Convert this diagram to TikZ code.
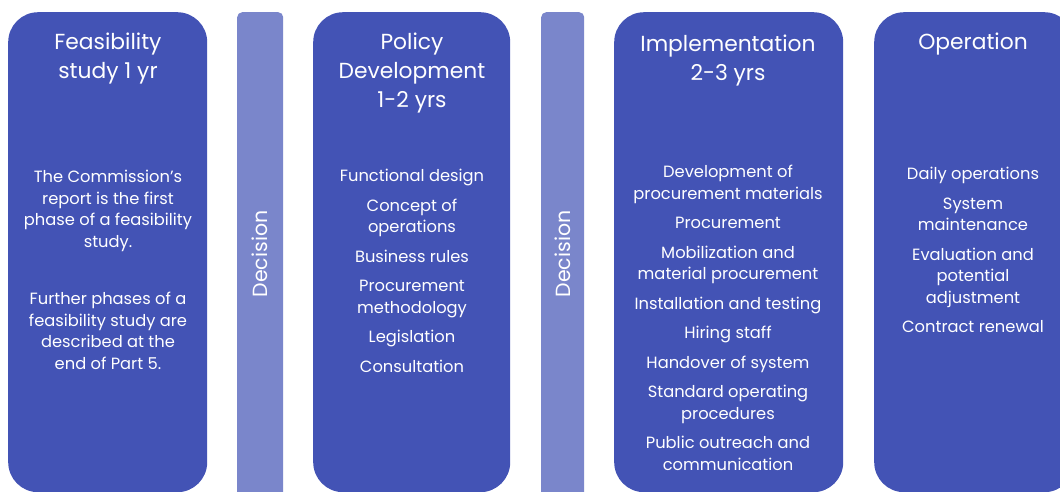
\documentclass[tikz,border=0pt]{standalone}
\usepackage{fontspec}
\setmainfont{Poppins}
\usetikzlibrary{positioning}
\definecolor{phaseblue}{RGB}{67,83,181}
\definecolor{gateblue}{RGB}{122,134,203}

\begin{document}
\begin{tikzpicture}[x=1pt,y=-1pt,
   phase/.style={fill=phaseblue,rounded corners=30pt,anchor=north west,inner sep=0pt,minimum height=480pt},
   gate/.style={fill=gateblue,rounded corners=5pt,anchor=north west,inner sep=0pt,minimum height=500pt},
   ttl/.style={text=white,font=\fontsize{21.8}{29}\selectfont,align=center,anchor=north,inner sep=0pt},
   txt/.style={text=white,font=\fontsize{16.3}{21.5}\selectfont,align=center,anchor=north,inner sep=0pt},
   dec/.style={text=white,font=\fontsize{20.5}{22}\selectfont,rotate=90,inner sep=0pt}]
  \useasboundingbox (0,0) rectangle (1060,491);
  \clip (0,0) rectangle (1060,491);
  % phases and decision gates
  \node[phase,minimum width=199pt] (feas) at (8,12) {};
  \node[gate,minimum width=46pt] (gate1) at (237,12) {};
  \node[phase,minimum width=197pt] (policy) at (313,12) {};
  \node[gate,minimum width=43pt] (gate2) at (541,12) {};
  \node[phase,minimum width=229pt] (impl) at (614,12) {};
  \node[phase,minimum width=200pt] (oper) at (874,12) {};
  \node[dec] (dec1) at (260,254) {Decision};
  \node[dec] (dec2) at (562.5,254) {Decision};
  % titles
  \node[ttl] (feasT) at (108,33) {Feasibility\\study 1 yr};
  \node[ttl] (policyT) at (412,33) {Policy\\Development\\1-2 yrs};
  \node[ttl] (implT) at (728,35) {Implementation\\2-3 yrs};
  \node[ttl] (operT) at (973,33) {Operation};
  % contents
  \node[txt] (feasB) at (108,170) {The Commission’s\\report is the first\\phase of a feasibility\\study.\\[36pt]
    Further phases of a\\feasibility study are\\described at the\\end of Part 5.};
  \node[txt] (policyB) at (412,169) {Functional design\\[8pt]Concept of\\operations\\[8pt]Business rules\\[8pt]
    Procurement\\methodology\\[8pt]Legislation\\[8pt]Consultation};
  \node[txt] (implB) at (728,165) {Development of\\procurement materials\\[8pt]Procurement\\[8pt]
    Mobilization and\\material procurement\\[8pt]Installation and testing\\[8pt]Hiring staff\\[8pt]
    Handover of system\\[8pt]Standard operating\\procedures\\[8pt]Public outreach and\\communication};
  \node[txt] (operB) at (973,167) {Daily operations\\[8pt]System\\maintenance\\[8pt]
    Evaluation and\\potential\\adjustment\\[8pt]Contract renewal};
\end{tikzpicture}
\end{document}
